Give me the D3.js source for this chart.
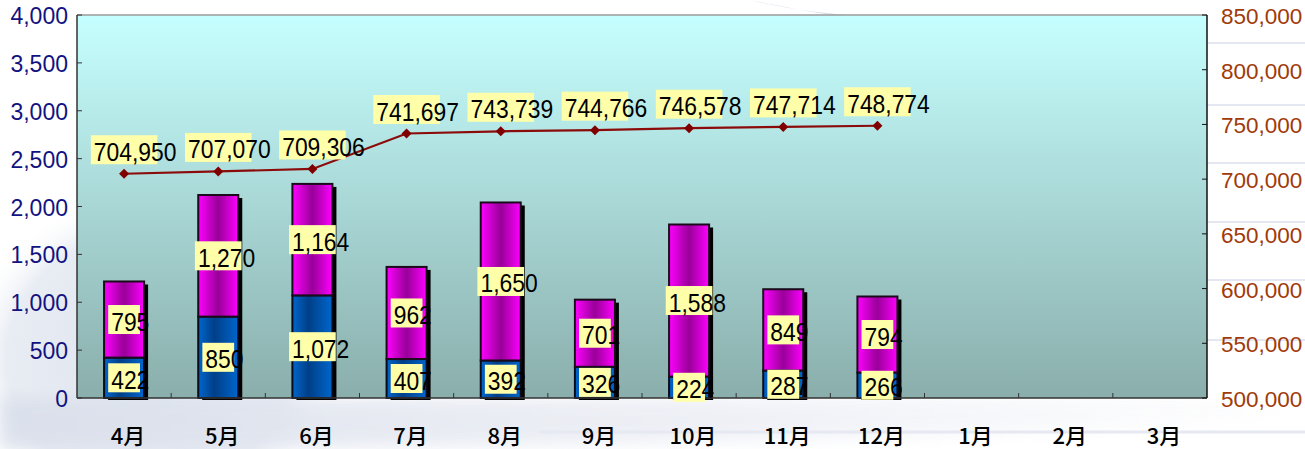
<!DOCTYPE html>
<html><head><meta charset="utf-8">
<script src="https://cdn.jsdelivr.net/npm/d3@7"></script>
<style>html,body{margin:0;padding:0;background:#fff;overflow:hidden}</style>
</head><body>
<svg id="c" width="1305" height="449"></svg>
<script>
const months = ["4月","5月","6月","7月","8月","9月","10月","11月","12月","1月","2月","3月"];
const blueVals = [422, 850, 1072, 407, 392, 326, 224, 287, 266];
const magentaVals = [795, 1270, 1164, 962, 1650, 701, 1588, 849, 794];
const lineVals = [704950, 707070, 709306, 741697, 743739, 744766, 746578, 747714, 748774];
const leftTicks = [0, 500, 1000, 1500, 2000, 2500, 3000, 3500, 4000];
const rightTicks = [500000, 550000, 600000, 650000, 700000, 750000, 800000, 850000];

const W = 1305, H = 449;
const m = {l: 77, r: 1207, t: 15, b: 398};
const svg = d3.select("#c");
const defs = svg.append("defs");

// background decoration
const blur = defs.append("filter").attr("id","blur").attr("x","-20%").attr("y","-20%").attr("width","140%").attr("height","140%");
blur.append("feGaussianBlur").attr("stdDeviation",8);
const bgG = defs.append("radialGradient").attr("id","blob").attr("cx","50%").attr("cy","50%").attr("r","50%");
bgG.append("stop").attr("offset","0%").attr("stop-color","#dde3ee").attr("stop-opacity",0.95);
bgG.append("stop").attr("offset","75%").attr("stop-color","#e2e7f0").attr("stop-opacity",0.8);
bgG.append("stop").attr("offset","100%").attr("stop-color","#ffffff").attr("stop-opacity",0);
svg.append("ellipse").attr("cx",150).attr("cy",360).attr("rx",190).attr("ry",170).attr("fill","url(#blob)");
const sw = defs.append("linearGradient").attr("id","sw").attr("x1",0).attr("x2",1).attr("y1",0).attr("y2",0);
sw.append("stop").attr("offset","0%").attr("stop-color","#d8deea");
sw.append("stop").attr("offset","55%").attr("stop-color","#eceef5");
sw.append("stop").attr("offset","100%").attr("stop-color","#ffffff");
svg.append("path").attr("d","M0,398 L1305,398 L1305,420 C900,440 500,449 0,449 Z")
  .attr("fill","url(#sw)").attr("opacity",0.85).attr("filter","url(#blur)");
svg.append("path").attr("d","M150,0 C190,10 230,14 260,16 L240,16 C210,12 180,6 150,0 Z")
  .attr("transform","translate(600,0)").attr("fill","#d8dce8");
[43,105,163,222,280,340].forEach(yy => {
  svg.append("line").attr("x1",1207).attr("x2",W).attr("y1",yy).attr("y2",yy).attr("stroke","#e4e6f2").attr("stroke-width",2);
});
svg.append("line").attr("x1",540).attr("x2",W).attr("y1",432).attr("y2",432).attr("stroke","#e6e8f2").attr("stroke-width",3);

// scales
const x = d3.scaleBand().domain(months).range([m.l, m.r]).paddingInner(0.575).paddingOuter(0.2875);
const yL = d3.scaleLinear().domain([0, 4000]).range([m.b, m.t]);
const yR = d3.scaleLinear().domain([500000, 850000]).range([m.b, m.t]);
const step = x.step();
const bw = x.bandwidth();

// plot background
const pg = defs.append("linearGradient").attr("id","pg").attr("x1",0).attr("x2",0).attr("y1",0).attr("y2",1);
pg.append("stop").attr("offset","0%").attr("stop-color","#c6ffff");
pg.append("stop").attr("offset","100%").attr("stop-color","#8aaeab");
svg.append("rect").attr("x",m.l).attr("y",m.t).attr("width",m.r-m.l).attr("height",m.b-m.t).attr("fill","url(#pg)");
svg.append("line").attr("x1",m.l).attr("x2",m.r).attr("y1",m.t).attr("y2",m.t).attr("stroke","#9a9a9a").attr("stroke-width",1.5);

// bar gradients
function hgrad(id, stops){
  const g = defs.append("linearGradient").attr("id",id).attr("x1",0).attr("x2",1).attr("y1",0).attr("y2",0);
  stops.forEach(s => g.append("stop").attr("offset",s[0]).attr("stop-color",s[1]));
}
hgrad("mg", [["0%","#ff00ff"],["50%","#990099"],["100%","#ff00ff"]]);
hgrad("bg", [["0%","#0066cc"],["40%","#003f88"],["100%","#0066cc"]]);

const bars = months.slice(0, blueVals.length).map((mo,i) => ({mo, b: blueVals[i], mg: magentaVals[i]}));

// shadows
svg.append("g").selectAll("rect").data(bars).join("rect")
  .attr("x", d => x(d.mo) + 4).attr("y", d => yL(d.b + d.mg) + 3)
  .attr("width", bw).attr("height", d => yL(0) + 1 - yL(d.b + d.mg) - 3 + 1)
  .attr("fill","#000");
// blue
svg.append("g").selectAll("rect").data(bars).join("rect")
  .attr("x", d => x(d.mo)).attr("y", d => yL(d.b))
  .attr("width", bw).attr("height", d => yL(0) - yL(d.b))
  .attr("fill","url(#bg)").attr("stroke","#0a0a1a").attr("stroke-width",2);
// magenta
svg.append("g").selectAll("rect").data(bars).join("rect")
  .attr("x", d => x(d.mo)).attr("y", d => yL(d.b + d.mg))
  .attr("width", bw).attr("height", d => yL(d.b) - yL(d.b + d.mg))
  .attr("fill","url(#mg)").attr("stroke","#1a0a1a").attr("stroke-width",2);

// axes lines
svg.append("line").attr("x1",m.l).attr("x2",m.l).attr("y1",m.t).attr("y2",m.b).attr("stroke","#333").attr("stroke-width",1.5);
svg.append("line").attr("x1",m.r).attr("x2",m.r).attr("y1",m.t).attr("y2",m.b).attr("stroke","#111").attr("stroke-width",1.5);
svg.append("line").attr("x1",m.l).attr("x2",m.r).attr("y1",m.b).attr("y2",m.b).attr("stroke","#333").attr("stroke-width",1.5);

// left axis
const la = svg.append("g");
leftTicks.forEach(v => {
  la.append("line").attr("x1",m.l).attr("x2",m.l+5).attr("y1",yL(v)).attr("y2",yL(v)).attr("stroke","#333");
  la.append("text").attr("x",68).attr("y",yL(v)+9).attr("text-anchor","end")
    .attr("font-family","Liberation Sans, Arial, sans-serif").attr("font-size",23).attr("fill","#121280")
    .text(d3.format(",")(v));
});
// right axis
const ra = svg.append("g");
rightTicks.forEach(v => {
  ra.append("line").attr("x1",m.r-5).attr("x2",m.r).attr("y1",yR(v)).attr("y2",yR(v)).attr("stroke","#111");
  ra.append("text").attr("x",1221).attr("y",yR(v)+9).attr("text-anchor","start")
    .attr("font-family","Liberation Sans, Arial, sans-serif").attr("font-size",22.5).attr("fill","#a03a08")
    .text(d3.format(",")(v));
});
// x axis ticks & labels
const xa = svg.append("g");
months.forEach((mo,i) => {
  const bx = m.l + step * i;
  if (i > 0) xa.append("line").attr("x1",bx).attr("x2",bx).attr("y1",m.b).attr("y2",m.b-5).attr("stroke","#333");
  xa.append("text").attr("x", x(mo) + bw/2 + 4).attr("y", 444).attr("text-anchor","middle")
    .attr("font-family","Noto Sans CJK JP, sans-serif").attr("font-size",22).attr("font-weight",500).attr("fill","#000")
    .text(mo);
});

// line
const pts = lineVals.map((v,i) => ({x: x(months[i]) + bw/2, y: yR(v), v}));
svg.append("path").datum(pts)
  .attr("d", d3.line().x(d => d.x).y(d => d.y))
  .attr("fill","none").attr("stroke","#8b0a0a").attr("stroke-width",2.2);
svg.append("g").selectAll("path").data(pts).join("path")
  .attr("transform", d => `translate(${d.x},${d.y})`)
  .attr("d","M0,-5L5,0L0,5L-5,0Z").attr("fill","#800000");

// labels
const lblG = svg.append("g");
const SX = 0.88;
function label(cx, cy, txt){
  const g = lblG.append("g");
  const rect = g.append("rect").attr("fill","#ffffaa");
  const t = g.append("text").attr("font-family","Liberation Sans, Arial, sans-serif").attr("font-size",26).attr("fill","#000").text(txt);
  const tw = t.node().getComputedTextLength() * SX;
  const boxW = tw * 0.78 + 2;
  const bx = cx - boxW/2;
  rect.attr("x", bx).attr("y", cy - 14.5).attr("width", boxW).attr("height", 29);
  t.attr("transform", `translate(${bx + 3},${cy + 11}) scale(${SX},1)`);
}
bars.forEach(d => {
  const cx = x(d.mo) + bw/2;
  label(cx, (yL(0) + yL(d.b))/2, d3.format(",")(d.b));
  label(cx, (yL(d.b) + yL(d.b + d.mg))/2, d3.format(",")(d.mg));
});
pts.forEach(p => label(p.x, p.y - 24, d3.format(",")(p.v)));
</script>
</body></html>
